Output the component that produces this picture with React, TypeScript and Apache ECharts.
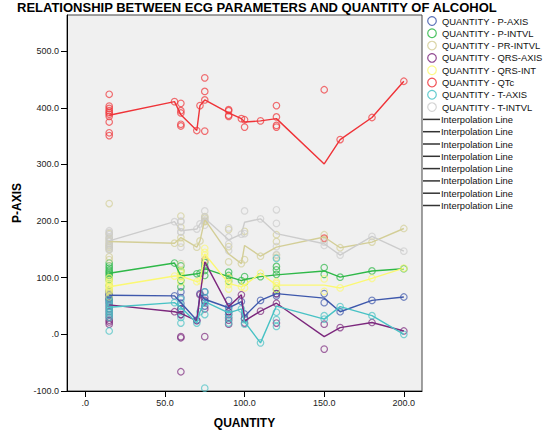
import React, { useEffect, useRef } from "react";
import * as echarts from "echarts";

// Distinct QUANTITY values (x positions of the case groups)
const QUANTITY = [15, 56, 60, 70, 72, 75, 90, 98, 100, 110, 120, 150, 160, 180, 200];

const X_TICKS = [0, 50, 100, 150, 200];
const Y_TICKS = [-100, 0, 100, 200, 300, 400, 500];

// Observed values per QUANTITY group (one inner list per entry of QUANTITY)
const P_AXIS_POINTS = [
  [78, 75, 73, 71, 70, 68, 66, 64, 62, 58], [68], [75, 65, 55, 45, 35], [25], [72],
  [75, 65, 58, 50], [60, 48, 40, 35], [58], [36, 28], [60], [72, 68], [72, 56], [40], [60], [66],
];
const P_INTVL_POINTS = [
  [126, 121, 117, 113, 110, 107, 104, 100, 96, 86], [126], [121, 112, 103, 95, 84], [107], [108],
  [127, 120, 113, 104], [110, 104, 100, 94], [95], [102, 92], [102], [120, 114, 106, 80], [118, 106], [101], [112], [116],
];
const PR_INTVL_POINTS = [
  [231, 178, 170, 165, 160, 157, 154, 150, 137, 132], [161], [209, 189, 171, 161, 125], [154], [165],
  [208, 205, 200, 199], [185, 155, 128, 100], [125], [182, 132], [138], [176, 164, 140, 136], [176, 168], [153], [163], [187],
];
const QRS_AXIS_POINTS = [
  [62, 55, 50, 45, 40, 35, 30, 25, 22, 18], [40], [45, 35, -4, -6, -66], [24], [70],
  [131, 60, 45, -4], [40, 30, 25, 18], [70], [28, 20], [41], [72, 55, 20], [18, -26], [12], [21], [6],
];
const QRS_INT_POINTS = [
  [100, 95, 92, 88, 85, 83, 80, 77, 74, 66], [103], [112, 108, 103, 100, 92], [93], [95],
  [152, 145, 140, 131], [100, 92, 88, 80], [84], [92, 82], [108], [93, 90, 86, 79], [98, 76], [82], [99], [117],
];
const QTC_POINTS = [
  [424, 403, 399, 395, 392, 389, 385, 375, 356, 351], [411], [408, 395, 391, 371, 368], [360], [404],
  [453, 429, 414, 359], [397, 395, 387, 385], [381], [379, 366], [377], [404, 384, 369, 366], [432, 170], [344], [383], [447],
];
const T_AXIS_POINTS = [
  [62, 58, 54, 50, 46, 42, 38, 34, 30, 6], [56], [62, 50, 40, 30, 20], [20], [40],
  [75, 55, 35, -95], [45, 35, 28, 20], [45], [26, 18], [-15], [134, 39, 26, 14], [33, 27], [49], [33], [0],
];
const T_INTVL_POINTS = [
  [183, 180, 176, 172, 168, 164, 160, 156, 152, 149], [199], [200, 199, 181, 181, 154], [186], [195],
  [218, 207, 202, 193], [188, 172, 160, 148], [177], [218, 178], [204], [220, 196, 155, 141], [163, 157], [140], [173], [147],
];

// Interpolation line vertices (one per QUANTITY value)
const P_AXIS_LINE = [69, 68, 56, 25, 72, 62, 47, 58, 32, 60, 72, 64, 40, 60, 66];
const P_INTVL_LINE = [108, 126, 103, 107, 108, 116, 102, 95, 97, 102, 105, 112, 101, 112, 116];
const PR_INTVL_LINE = [164, 161, 171, 154, 165, 203, 142, 125, 157, 138, 154, 172, 153, 163, 187];
const QRS_AXIS_LINE = [52, 40, 37, 24, 68, 128, 49, 70, 24, 41, 55, -4, 12, 21, 6];
const QRS_INT_LINE = [84, 103, 103, 93, 95, 142, 90, 84, 87, 108, 87, 87, 82, 99, 117];
const QTC_LINE = [387, 411, 388, 360, 404, 414, 391, 381, 375, 377, 381, 301, 344, 383, 447];
const T_AXIS_LINE = [48, 56, 48, 20, 40, 58, 38, 45, 22, -15, 50, 27, 49, 33, 0];
const T_INTVL_LINE = [165, 199, 183, 186, 195, 205, 167, 177, 198, 204, 178, 160, 140, 173, 147];

const SERIES_NAMES = [
  "QUANTITY - P-AXIS",
  "QUANTITY - P-INTVL",
  "QUANTITY - PR-INTVL",
  "QUANTITY - QRS-AXIS",
  "QUANTITY - QRS-INT",
  "QUANTITY - QTc",
  "QUANTITY - T-AXIS",
  "QUANTITY - T-INTVL",
];
const LINE_NAME = "Interpolation Line";

const COLORS = ["#3e58ac", "#2eb848", "#d3ce97", "#7c287d", "#fbf873", "#ef3338", "#48c2c5", "#cccccc"];
const POINTS = [P_AXIS_POINTS, P_INTVL_POINTS, PR_INTVL_POINTS, QRS_AXIS_POINTS, QRS_INT_POINTS, QTC_POINTS, T_AXIS_POINTS, T_INTVL_POINTS];
const LINES = [P_AXIS_LINE, P_INTVL_LINE, PR_INTVL_LINE, QRS_AXIS_LINE, QRS_INT_LINE, QTC_LINE, T_AXIS_LINE, T_INTVL_LINE];

const FONT = "'Liberation Sans', Arial, sans-serif";

function fmt(v: number): string {
  if (v === 0) return ".0";
  return v.toFixed(1);
}

export default function App() {
  const ref = useRef<HTMLDivElement>(null);

  useEffect(() => {
    if (!ref.current) return;
    const chart = echarts.init(ref.current, undefined, { renderer: "svg" });

    const scatterSeries = SERIES_NAMES.map((name, s) => ({
      name,
      type: "scatter",
      symbol: "circle",
      symbolSize: 6.5,
      data: QUANTITY.flatMap((q, i) => POINTS[s][i].map((v) => [q, v])),
      itemStyle: { color: "rgba(0,0,0,0)", borderColor: COLORS[s], borderWidth: 1.2, opacity: 0.7 },
      z: 2,
    }));
    const lineSeries = SERIES_NAMES.map((name, s) => ({
      name: LINE_NAME + " " + (s + 1),
      type: "line",
      showSymbol: false,
      symbol: "none",
      data: QUANTITY.map((q, i) => [q, LINES[s][i]]),
      lineStyle: { color: COLORS[s], width: 1.4 },
      z: 3,
    }));

    const legendX = 432;
    const legendY0 = 21;
    const legendStep = 12.3;
    const legendGraphics: any[] = [];
    SERIES_NAMES.forEach((name, i) => {
      const y = legendY0 + i * legendStep;
      legendGraphics.push({
        type: "circle",
        shape: { cx: legendX, cy: y, r: 4.3 },
        style: { fill: "none", stroke: COLORS[i], lineWidth: 1.2, opacity: 0.85 },
      });
      legendGraphics.push({
        type: "text",
        x: 442,
        y,
        style: { text: name, fill: "#111", font: `9.4px ${FONT}`, verticalAlign: "middle", align: "left" },
      });
    });
    SERIES_NAMES.forEach((_, i) => {
      const y = legendY0 + (i + 8) * legendStep;
      legendGraphics.push({
        type: "line",
        shape: { x1: 423, y1: y, x2: 440, y2: y },
        style: { stroke: "#333", lineWidth: 1.5 },
      });
      legendGraphics.push({
        type: "text",
        x: 441,
        y,
        style: { text: LINE_NAME, fill: "#111", font: `9.4px ${FONT}`, verticalAlign: "middle", align: "left" },
      });
    });

    chart.setOption({
      animation: false,
      textStyle: { fontFamily: FONT },
      graphic: [
        {
          type: "text",
          x: 17,
          y: 1,
          style: {
            text: "RELATIONSHIP BETWEEN ECG PARAMETERS AND QUANTITY OF ALCOHOL",
            fill: "#000",
            font: `bold 13px ${FONT}`,
            verticalAlign: "top",
            align: "left",
          },
        },
        ...legendGraphics,
      ],
      grid: {
        left: 67,
        right: 122,
        top: 15,
        bottom: 38,
        show: true,
        backgroundColor: "#f0f0f0",
        borderColor: "#444",
        borderWidth: 1,
      },
      xAxis: {
        type: "value",
        min: -11.5,
        max: 211.4,
        name: "QUANTITY",
        nameLocation: "middle",
        nameGap: 26,
        nameTextStyle: { fontWeight: "bold", fontSize: 12, color: "#000", fontFamily: FONT },
        axisLine: { show: true, onZero: false, lineStyle: { color: "#000", width: 1 } },
        axisTick: { show: true, length: 6, customValues: X_TICKS, lineStyle: { color: "#000" } },
        axisLabel: { customValues: X_TICKS, formatter: fmt, fontSize: 9, color: "#222", margin: 7, fontFamily: FONT },
        splitLine: { show: false },
      },
      yAxis: {
        type: "value",
        min: -100,
        max: 564,
        name: "P-AXIS",
        nameLocation: "middle",
        nameGap: 44,
        nameTextStyle: { fontWeight: "bold", fontSize: 12, color: "#000", fontFamily: FONT },
        axisLine: { show: true, onZero: false, lineStyle: { color: "#000", width: 1 } },
        axisTick: { show: true, length: 6, customValues: Y_TICKS, lineStyle: { color: "#000" } },
        axisLabel: { customValues: Y_TICKS, formatter: fmt, fontSize: 9, color: "#222", margin: 8, fontFamily: FONT },
        splitLine: { show: false },
      },
      series: [...scatterSeries, ...lineSeries],
    });

    return () => {
      chart.dispose();
    };
  }, []);

  return (
    <div
      ref={ref}
      style={{ position: "fixed", left: 0, top: 0, width: 544, height: 434, background: "#fff" }}
    />
  );
}
